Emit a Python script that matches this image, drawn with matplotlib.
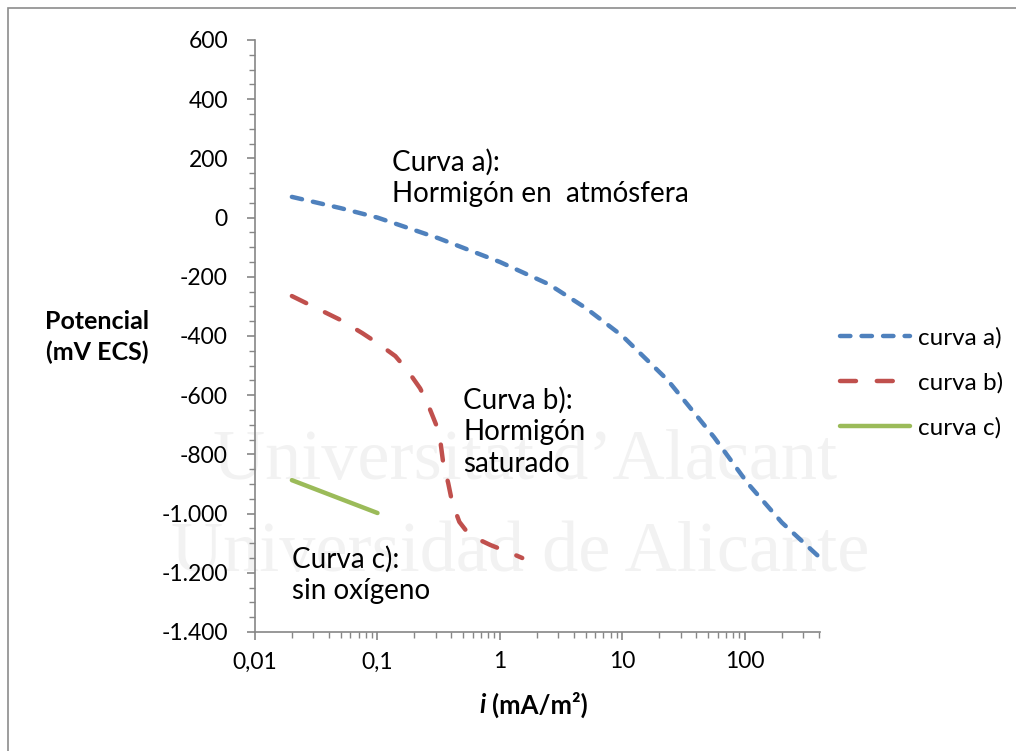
import matplotlib
matplotlib.use("Agg")
import matplotlib.pyplot as plt
import matplotlib.patches as patches
from matplotlib.ticker import FixedLocator, FuncFormatter, LogLocator, NullFormatter
import numpy as np

# ------- data -------
x_a = [0.02, 0.05, 0.1, 0.316, 1, 2.5, 5, 10, 23.4, 56, 105, 200, 400]
y_a = [70, 32, 0, -70, -150, -225, -305, -400, -549, -742, -897, -1030, -1145]

x_b = [0.02, 0.05, 0.075, 0.1, 0.14, 0.175, 0.223, 0.26, 0.302, 0.326, 0.344, 0.378,
       0.408, 0.466, 0.53, 0.607, 0.834, 1.22, 1.52]
y_b = [-265, -346, -390, -424, -468, -515, -577, -634, -701, -755, -829, -897,
       -964, -1028, -1058, -1079, -1106, -1133, -1150]

x_c = [0.02, 0.1]
y_c = [-887, -998]

labels = ['curva a)', 'curva b)', 'curva c)']
colors = ['#4f81bd', '#c0504d', '#9bbb59']
x_ticks = [0.01, 0.1, 1, 10, 100]
x_ticklabels = ['0,01', '0,1', '1', '10', '100']

plt.rcParams['font.family'] = ['Lato', 'DejaVu Sans']
plt.rcParams['lines.scale_dashes'] = False

W, H = 1016, 751
fig = plt.figure(figsize=(W / 100, H / 100), dpi=100)
ax = fig.add_axes([255 / W, 1 - 632 / H, (820 - 255) / W, (632 - 40) / H])
ax.set_facecolor('none')

def fx(px):
    return px / W

def fy(py):
    return 1 - py / H

# faint watermark, behind everything in the axes
ax.text(fx(525), fy(462), "Universitat d\u2019Alacant", family='Liberation Serif', fontsize=52,
        color='#f2f2f2', ha='center', va='center', zorder=0, transform=fig.transFigure, clip_on=False)
ax.text(fx(520), fy(553), "Universidad de Alicante", family='Liberation Serif', fontsize=52,
        color='#f2f2f2', ha='center', va='center', zorder=0, transform=fig.transFigure, clip_on=False)

# chart frame
fig.patches.append(patches.Rectangle((fx(8), -0.1), 1.2, fy(8) + 0.1, transform=fig.transFigure,
                                     fill=False, edgecolor='#8c8c8c', lw=1.2))

ax.plot(x_a, y_a, color=colors[0], lw=3.2, dashes=(7.5, 8), dash_capstyle='round', label=labels[0])
ax.plot(x_b, y_b, color=colors[1], lw=3.2, dashes=(11.5, 15), dash_capstyle='round', label=labels[1])
ax.plot(x_c, y_c, color=colors[2], lw=3.2, solid_capstyle='round', label=labels[2])

ax.set_xscale('log')
ax.set_xlim(0.01, 410)
ax.set_ylim(-1400, 600)

ax.xaxis.set_major_locator(FixedLocator(x_ticks))
ax.set_xticklabels(x_ticklabels)
ax.xaxis.set_minor_locator(LogLocator(base=10, subs=np.arange(2, 10)))
ax.xaxis.set_minor_formatter(NullFormatter())

ax.set_yticks(np.arange(-1400, 601, 200))
ax.set_yticks(np.arange(-1400, 601, 50), minor=True)
ax.yaxis.set_major_formatter(FuncFormatter(lambda v, p: f"{int(v):,}".replace(',', '.')))

for s in ['top', 'right']:
    ax.spines[s].set_visible(False)
for s in ['left', 'bottom']:
    ax.spines[s].set_color('#868686')
    ax.spines[s].set_linewidth(1.2)
ax.tick_params(which='major', direction='out', length=6, color='#868686', width=1.2,
               labelsize=16.5, pad=8)
ax.tick_params(which='minor', direction='out', length=4, color='#868686', width=1.0)
ax.tick_params(axis='y', which='major', pad=13.5)

# axis titles
fig.text(fx(97), fy(337), "Potencial\n(mV ECS)", fontsize=18, weight='bold',
         ha='center', va='center', linespacing=1.36)
fig.text(fx(486), fy(705), "i", fontsize=18.5, weight='bold', style='italic', ha='right', va='center')
fig.text(fx(492), fy(705), "(mA/m\u00b2)", fontsize=18.5, weight='bold', ha='left', va='center')

# curve annotations
fig.text(fx(392), fy(178), "Curva a):\nHormig\u00f3n en  atm\u00f3sfera", fontsize=20,
         ha='left', va='center', linespacing=1.26)
fig.text(fx(463), fy(432), "Curva b):\nHormig\u00f3n\nsaturado", fontsize=20,
         ha='left', va='center', linespacing=1.26)
fig.text(fx(292), fy(575), "Curva c):\nsin ox\u00edgeno", fontsize=20,
         ha='left', va='center', linespacing=1.26)

leg = ax.legend(loc='center left', bbox_to_anchor=(fx(818), fy(383)),
                bbox_transform=fig.transFigure, frameon=False, fontsize=17.5,
                handlelength=2.88, handletextpad=0.33, labelspacing=0.97)

fig.savefig('out.png', dpi=100)
